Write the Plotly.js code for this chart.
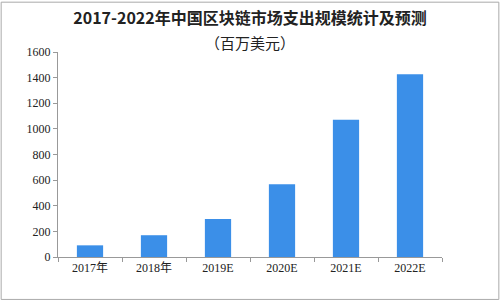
<!DOCTYPE html>
<html><head><meta charset="utf-8">
<script src="https://cdn.plot.ly/plotly-3.0.1.min.js"></script>
<style>html,body{margin:0;padding:0;background:#fff}#c{width:500px;height:300px}</style>
</head><body><div id="c"></div>
<script>
const categories = ["2017年", "2018年", "2019E", "2020E", "2021E", "2022E"];
const values = [91, 170, 297, 567, 1072, 1427];
const yTicks = [0, 200, 400, 600, 800, 1000, 1200, 1400, 1600];

const trace = {
  type: "bar", x: categories, y: values,
  marker: {color: "#3b8fe8"}, hoverinfo: "none"
};
const layout = {
  width: 500, height: 300,
  margin: {l: 58, r: 58, t: 52, b: 43},
  paper_bgcolor: "#fff", plot_bgcolor: "#fff",
  bargap: 0.59,
  showlegend: false,
  title: {
    text: "<b>2017-2022年中国区块链市场支出规模统计及预测</b>",
    x: 0.5, xanchor: "center", y: 0.94, yanchor: "middle",
    font: {family: "Noto Sans CJK SC", size: 16, color: "#222"}
  },
  annotations: [{
    text: "（百万美元）", xref: "paper", yref: "paper", x: 0.5, y: 1.0, yanchor: "bottom",
    yshift: -3, showarrow: false,
    font: {family: "Noto Sans CJK SC", size: 15, color: "#222"}
  }],
  xaxis: {
    type: "category", showline: true, linecolor: "#999", linewidth: 1,
    ticks: "outside", tickson: "boundaries", ticklen: 4, tickcolor: "#999",
    tickfont: {family: "Liberation Serif, Noto Sans CJK SC", size: 12, color: "#222"},
    showgrid: false, zeroline: false, fixedrange: true
  },
  yaxis: {
    range: [0, 1600], tickvals: yTicks, ticktext: yTicks.map(String),
    showline: true, linecolor: "#999", linewidth: 1,
    ticks: "outside", ticklen: 4, tickcolor: "#999",
    tickfont: {family: "Liberation Serif", size: 12, color: "#222"},
    showgrid: false, zeroline: false, fixedrange: true
  },
  shapes: [{
    type: "rect", xref: "paper", yref: "paper", x0: -0.148, x1: 1.148, y0: -0.207, y1: 1.243,
    line: {color: "#aaa", width: 1}
  }]
};
Plotly.newPlot("c", [trace], layout, {staticPlot: true, displayModeBar: false});
</script></body></html>
